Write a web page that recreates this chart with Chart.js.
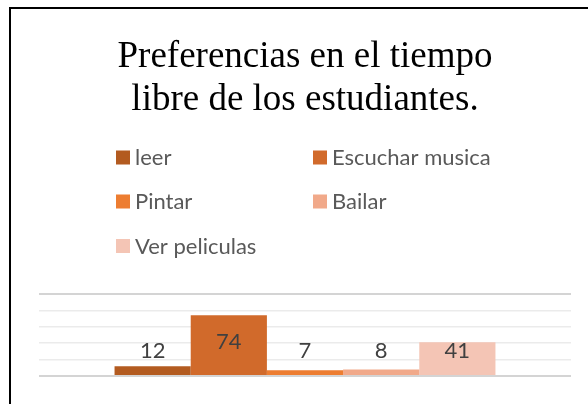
<!DOCTYPE html>
<html>
<head>
<meta charset="utf-8">
<script src="https://cdn.jsdelivr.net/npm/chart.js@4.4.1/dist/chart.umd.min.js"></script>
<style>
  html, body { margin: 0; padding: 0; background: #ffffff; overflow: hidden; }
  #wrap { position: relative; width: 588px; height: 404px; }
  #frame { position: absolute; left: 9px; top: 7px; width: 640px; height: 460px; border: 2px solid #000; box-sizing: border-box; }
  #c { position: absolute; left: 0; top: 0; }
</style>
</head>
<body>
<div id="wrap">
  <div id="frame"></div>
  <canvas id="c" width="588" height="404"></canvas>
</div>
<script>
const titleLines = ['Preferencias en el tiempo', 'libre de los estudiantes.'];
const categories = [''];
const seriesNames = ['leer', 'Escuchar musica', 'Pintar', 'Bailar', 'Ver peliculas'];
const seriesValues = [12, 74, 7, 8, 41];
const seriesColors = ['#B35B20', '#D16A2B', '#ED7D31', '#F1A98A', '#F4C5B5'];
const yMin = 0, yMax = 100, yStep = 20;

const datasets = seriesNames.map((name, i) => ({
  label: name,
  data: [seriesValues[i]],
  backgroundColor: seriesColors[i],
  borderWidth: 0,
  categoryPercentage: 0.716,
  barPercentage: 1.0
}));

const legendGrid = {
  id: 'legendGrid',
  afterDraw(chart) {
    const ctx = chart.ctx;
    const colX = [116, 313];
    const rowBase = [164.5, 208.5, 253];
    ctx.save();
    ctx.font = '22px Lato';
    ctx.textBaseline = 'alphabetic';
    ctx.textAlign = 'left';
    chart.data.datasets.forEach((ds, i) => {
      const col = i % 2, row = Math.floor(i / 2);
      const x = colX[col], yb = rowBase[row];
      ctx.fillStyle = ds.backgroundColor;
      ctx.fillRect(x, yb - 14, 14, 14);
      ctx.fillStyle = '#595959';
      ctx.fillText(ds.label, x + 19, yb + 0.5);
    });
    ctx.restore();
  }
};

const valueLabels = {
  id: 'valueLabels',
  afterDatasetsDraw(chart) {
    const ctx = chart.ctx;
    const yScale = chart.scales.y;
    ctx.save();
    ctx.font = '22px Lato';
    ctx.fillStyle = '#404040';
    ctx.textAlign = 'center';
    ctx.textBaseline = 'middle';
    chart.data.datasets.forEach((ds, i) => {
      const meta = chart.getDatasetMeta(i);
      meta.data.forEach((bar, j) => {
        const v = ds.data[j];
        const anchor = Math.max(31, v * 0.555);
        ctx.fillText(String(v), bar.x, yScale.getPixelForValue(anchor));
      });
    });
    ctx.restore();
  }
};

new Chart(document.getElementById('c'), {
  type: 'bar',
  data: { labels: categories, datasets: datasets },
  options: {
    responsive: false,
    animation: false,
    devicePixelRatio: 1,
    layout: { padding: { left: 39, right: 17, top: 0, bottom: 28 } },
    plugins: {
      legend: { display: false },
      tooltip: { enabled: false },
      title: {
        display: true,
        text: titleLines,
        color: '#000000',
        font: { family: '"Liberation Serif", "Times New Roman", serif', size: 37, weight: 'normal', lineHeight: 1.16 },
        padding: { top: 36, bottom: 172 }
      }
    },
    scales: {
      x: { display: false },
      y: {
        min: yMin, max: yMax,
        ticks: { display: false, stepSize: yStep },
        border: { display: false },
        grid: {
          drawTicks: false,
          color: (c) => (c.tick && (c.tick.value === yMin || c.tick.value === yMax)) ? '#d4d4d4' : '#ebebeb',
          lineWidth: (c) => (c.tick && (c.tick.value === yMin || c.tick.value === yMax)) ? 2 : 1.5
        }
      }
    }
  },
  plugins: [legendGrid, valueLabels]
});
</script>
</body>
</html>
